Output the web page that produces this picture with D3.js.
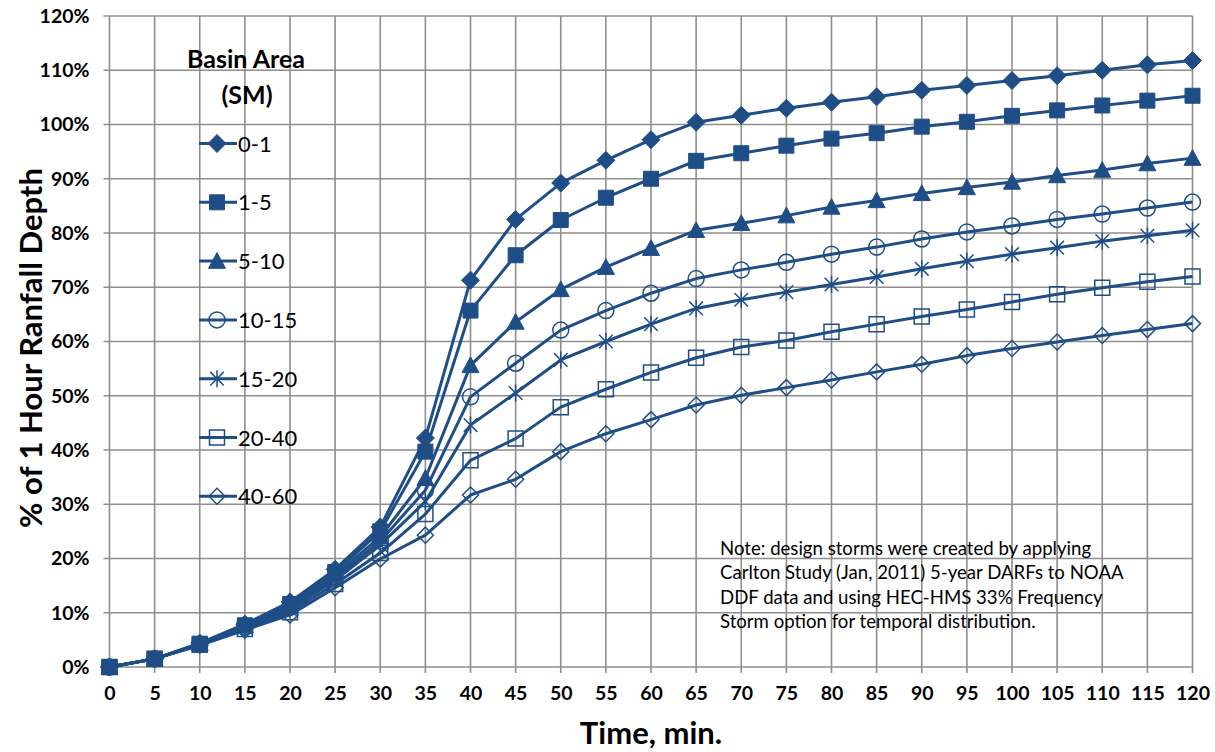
<!DOCTYPE html>
<html>
<head>
<meta charset="utf-8">
<script src="https://cdn.jsdelivr.net/npm/d3@7"></script>
<style>
  body { margin: 0; background: #fff; }
  svg { display: block; }
  text { font-family: Lato, "Open Sans", sans-serif; fill: #000; }
</style>
</head>
<body>
<svg id="chart" width="1215" height="752"></svg>
<script>
// ---- Data ----
const times = [0,5,10,15,20,25,30,35,40,45,50,55,60,65,70,75,80,85,90,95,100,105,110,115,120];
const xTickLabels = times.map(String);
const yTicks = [0,10,20,30,40,50,60,70,80,90,100,110,120];
const seriesNames = ["0-1","1-5","5-10","10-15","15-20","20-40","40-60"];
const markerTypes = ["diamondFilled","squareFilled","triangleFilled","circleOpen","asterisk","squareOpen","diamondOpen"];
const s0_1   = [0,1.5,4.4,7.9,12.0,18.0,25.8,42.2,71.3,82.5,89.2,93.4,97.2,100.4,101.7,103.0,104.1,105.1,106.3,107.2,108.1,109.0,110.0,111.0,111.8];
const s1_5   = [0,1.5,4.3,7.7,11.6,17.5,25.0,39.7,65.7,75.9,82.4,86.5,90.0,93.3,94.7,96.1,97.4,98.4,99.6,100.5,101.6,102.6,103.5,104.4,105.3];
const s5_10  = [0,1.5,4.3,7.6,11.3,17.0,24.0,34.8,55.6,63.6,69.6,73.7,77.2,80.5,81.8,83.2,84.8,86.0,87.3,88.4,89.4,90.6,91.6,92.8,93.8];
const s10_15 = [0,1.5,4.2,7.4,11.0,16.5,23.2,32.6,49.8,56.0,62.1,65.7,68.9,71.6,73.2,74.6,76.1,77.4,78.9,80.2,81.3,82.5,83.5,84.6,85.7];
const s15_20 = [0,1.5,4.2,7.3,10.6,16.0,22.5,30.5,44.6,50.5,56.6,60.0,63.2,66.1,67.7,69.1,70.5,71.9,73.4,74.8,76.1,77.3,78.5,79.5,80.5];
const s20_40 = [0,1.5,4.1,7.0,10.1,15.3,21.0,28.2,38.1,42.1,47.9,51.2,54.3,57.0,59.0,60.2,61.8,63.2,64.6,65.9,67.3,68.7,69.9,71.0,72.0];
const s40_60 = [0,1.5,4.0,6.8,9.6,14.6,19.9,24.3,31.7,34.6,39.7,43.0,45.6,48.3,50.1,51.5,52.9,54.4,55.8,57.4,58.7,59.9,61.1,62.2,63.3];
const seriesValues = [s0_1, s1_5, s5_10, s10_15, s15_20, s20_40, s40_60];
const noteLines = [
  "Note: design storms were created by applying",
  "Carlton Study (Jan, 2011) 5-year DARFs to NOAA",
  "DDF data and using HEC-HMS 33% Frequency",
  "Storm option for temporal distribution."
];

// ---- Layout ----
const W = 1215, H = 752;
const plot = {left: 109.5, right: 1192.5, top: 16, bottom: 667};
const color = "#1f4e87";
const gridColor = "#8e8e8e";

const svg = d3.select("#chart");
const x = d3.scaleLinear().domain([0,120]).range([plot.left, plot.right]);
const y = d3.scaleLinear().domain([0,120]).range([plot.bottom, plot.top]);

// gridlines
const g = svg.append("g");
g.selectAll("line.vg").data(times).join("line")
  .attr("x1", d => x(d)).attr("x2", d => x(d))
  .attr("y1", plot.top).attr("y2", plot.bottom + 6)
  .attr("stroke", gridColor).attr("stroke-width", 1.6);
g.selectAll("line.hg").data(yTicks).join("line")
  .attr("x1", plot.left - 6).attr("x2", plot.right)
  .attr("y1", d => y(d)).attr("y2", d => y(d))
  .attr("stroke", gridColor).attr("stroke-width", 1.6);

// axes tick labels via d3 axes
const xAxis = d3.axisBottom(x).tickValues(times).tickFormat((d,i) => xTickLabels[i]).tickSize(0).tickPadding(0);
const xg = svg.append("g").attr("transform", `translate(0,${plot.bottom + 19})`).call(xAxis);
xg.select(".domain").remove();
xg.selectAll("text").attr("font-size", 19.5).attr("font-weight", "bold").attr("dy", "0.71em")
  .style("font-family", "Lato, sans-serif").attr("fill", "#000");

const yAxis = d3.axisLeft(y).tickValues(yTicks).tickFormat(d => d + "%").tickSize(0).tickPadding(0);
const yg = svg.append("g").attr("transform", `translate(${plot.left - 20},0)`).call(yAxis);
yg.select(".domain").remove();
yg.selectAll("text").attr("font-size", 19.5).attr("font-weight", "bold")
  .style("font-family", "Lato, sans-serif").attr("fill", "#000");

// axis titles
svg.append("text").attr("x", 651).attr("y", 744)
  .attr("text-anchor", "middle").attr("font-size", 31).attr("font-weight", "bold")
  .text("Time, min.");
svg.append("text").attr("transform", `translate(42,${348}) rotate(-90)`)
  .attr("text-anchor", "middle").attr("font-size", 31).attr("font-weight", "bold")
  .text("% of 1 Hour Ranfall Depth");

// marker paths
function markerPath(type) {
  switch (type) {
    case "diamondFilled": { const s = 9; return `M0,${-s}L${s},0L0,${s}L${-s},0Z`; }
    case "diamondOpen":   { const s = 8; return `M0,${-s}L${s},0L0,${s}L${-s},0Z`; }
    case "squareFilled":  { const s = 7.5; return `M${-s},${-s}H${s}V${s}H${-s}Z`; }
    case "squareOpen":    { const s = 7.5; return `M${-s},${-s}H${s}V${s}H${-s}Z`; }
    case "triangleFilled":{ const s = 8.5; return `M0,${-s}L${s},${s*0.85}L${-s},${s*0.85}Z`; }
    case "circleOpen":    { const r = 8; return `M${r},0A${r},${r} 0 1,1 ${-r},0A${r},${r} 0 1,1 ${r},0Z`; }
    case "asterisk":      { const s = 8.5; const d = s*0.8; return `M0,${-s}V${s}M${-d},${-d}L${d},${d}M${-d},${d}L${d},${-d}`; }
  }
}
function styleMarker(sel, type) {
  const filled = type.endsWith("Filled");
  sel.attr("d", markerPath(type))
    .attr("fill", filled ? color : "none")
    .attr("stroke", color)
    .attr("stroke-width", filled ? 1 : 1.5);
}

const line = d3.line().x(d => x(d[0])).y(d => y(d[1]));

seriesValues.forEach((vals, si) => {
  const pts = times.map((t, i) => [t, vals[i]]);
  const sg = svg.append("g");
  sg.append("path").datum(pts).attr("d", line)
    .attr("fill", "none").attr("stroke", color).attr("stroke-width", 3).attr("stroke-linejoin", "round");
  sg.selectAll("path.m").data(pts).join("path").attr("class", "m")
    .attr("transform", d => `translate(${x(d[0])},${y(d[1])})`)
    .call(styleMarker, markerTypes[si]);
});

// legend
const leg = svg.append("g");
leg.append("text").attr("x", 246).attr("y", 68).attr("text-anchor", "middle")
  .attr("font-size", 25).attr("font-weight", "bold").text("Basin Area");
leg.append("text").attr("x", 247).attr("y", 104).attr("text-anchor", "middle")
  .attr("font-size", 25).attr("font-weight", "bold").text("(SM)");
seriesNames.forEach((name, i) => {
  const cy = 143.5 + i * 58.8;
  leg.append("line").attr("x1", 199).attr("x2", 237).attr("y1", cy).attr("y2", cy)
    .attr("stroke", color).attr("stroke-width", 3);
  leg.append("path").attr("transform", `translate(217,${cy})`).call(styleMarker, markerTypes[i]);
  leg.append("text").attr("x", 238).attr("y", cy + 8).attr("font-size", 22).text(name);
});

// note
noteLines.forEach((t, i) => {
  svg.append("text").attr("x", 720).attr("y", 555 + i * 24.3).attr("font-size", 18.6).text(t);
});
</script>
</body>
</html>
